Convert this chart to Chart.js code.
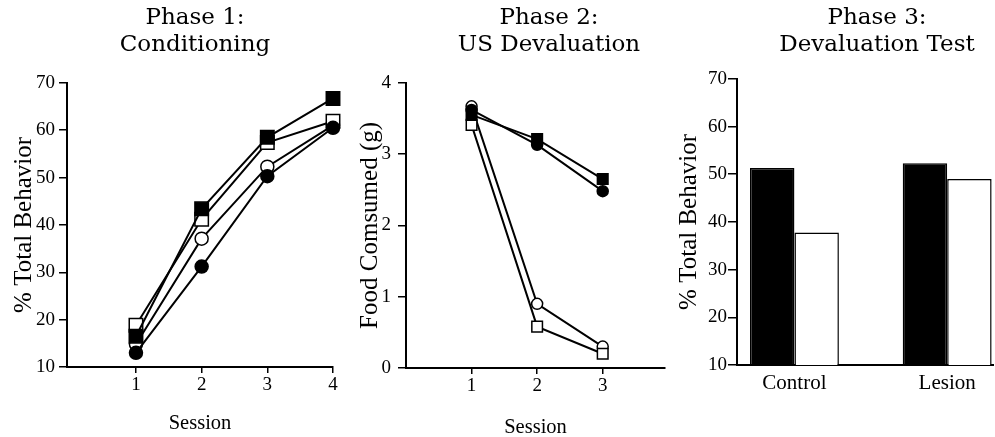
<!DOCTYPE html>
<html>
<head>
<meta charset="utf-8">
<script src="https://cdn.jsdelivr.net/npm/chart.js@4.4.1/dist/chart.umd.min.js"></script>
<style>
  html, body { margin: 0; padding: 0; background: #fff; overflow: hidden; }
  body { width: 995px; height: 437px; position: relative; }
  canvas { position: absolute; top: 0; }
  #phase1 { left: 0; }
  #phase2 { left: 352px; }
  #phase3 { left: 665px; }
</style>
</head>
<body>
<canvas id="phase1" width="390" height="437"></canvas>
<canvas id="phase2" width="394" height="441"></canvas>
<canvas id="phase3" width="424" height="437"></canvas>
<script>
// Phase 1: Conditioning (% total behavior per session)
const sessions1 = [1, 2, 3, 4];
const p1FilledSquare = [16.5, 43.4, 58.5, 66.7];
const p1OpenSquare = [18.8, 41.2, 57.4, 61.9];
const p1OpenCircle = [14.8, 37.1, 52.3, 61.0];
const p1FilledCircle = [13.0, 31.2, 50.3, 60.5];
const p1Ticks = [10, 20, 30, 40, 50, 60, 70];

// Phase 2: US Devaluation (food consumed, g)
const sessions2 = [1, 2, 3];
const p2FilledSquare = [3.55, 3.21, 2.65];
const p2FilledCircle = [3.62, 3.13, 2.48];
const p2OpenCircle = [3.67, 0.90, 0.30];
const p2OpenSquare = [3.41, 0.58, 0.20];
const p2Ticks = [0, 1, 2, 3, 4];

// Phase 3: Devaluation Test
const groups = ['Control', 'Lesion'];
const nonDevalued = [51.3, 52.3];
const devalued = [37.8, 49.0];
const p3Ticks = [10, 20, 30, 40, 50, 60, 70];

Chart.defaults.font.family = '"Liberation Serif", serif';
Chart.defaults.color = '#000';
Chart.defaults.animation = false;

const titleFont = { family: '"DejaVu Serif", serif', size: 23, weight: 'normal', lineHeight: 1.17 };
const tickFont = { size: 19 };

function points(xs, ys) {
  return xs.map((x, i) => ({ x: x, y: ys[i] }));
}

function lineSet(label, xs, ys, style, filled, radius) {
  return {
    label: label,
    data: points(xs, ys),
    borderColor: '#000',
    borderWidth: 2,
    pointStyle: style,
    pointRadius: radius,
    pointBackgroundColor: filled ? '#000' : '#fff',
    pointBorderColor: '#000',
    pointBorderWidth: 1.5,
    tension: 0,
    clip: false
  };
}

function yAxis(min, max, ticks, width, titleText, titlePad, tickPad, tickLen) {
  return {
    type: 'linear',
    position: 'left',
    min: min,
    max: max,
    afterBuildTicks: s => { s.ticks = ticks.map(v => ({ value: v })); },
    afterFit: s => { s.width = width; },
    grid: { display: true, drawOnChartArea: false, drawTicks: true, tickLength: tickLen, color: '#000', lineWidth: 1.5 },
    border: { display: true, color: '#000', width: 2 },
    ticks: { font: tickFont, padding: tickPad, color: '#000' },
    title: {
      display: true,
      text: titleText,
      font: { size: 25 },
      color: '#000',
      padding: { top: titlePad, bottom: 0 }
    }
  };
}

function rightPad(width) {
  return {
    type: 'linear',
    position: 'right',
    display: true,
    grid: { display: false },
    border: { display: false },
    ticks: { display: false },
    afterFit: s => { s.width = width; }
  };
}

function sessionAxis(min, max, ticks, height) {
  return {
    type: 'linear',
    position: 'bottom',
    min: min,
    max: max,
    afterBuildTicks: s => { s.ticks = ticks.map(v => ({ value: v })); },
    afterFit: s => { s.height = height; },
    grid: { display: true, drawOnChartArea: false, drawTicks: true, tickLength: 6, color: '#000', lineWidth: 1.5 },
    border: { display: true, color: '#000', width: 2 },
    ticks: { font: tickFont, padding: 1, color: '#000', maxRotation: 0 },
    title: {
      display: true,
      text: 'Session',
      font: { size: 20.5 },
      color: '#000',
      padding: { top: 0, bottom: 1 }
    }
  };
}

function titlePlugin(lines, bottom) {
  return {
    display: true,
    text: lines,
    font: titleFont,
    color: '#000',
    padding: { top: 5, bottom: bottom }
  };
}

// Phase 1 chart
new Chart(document.getElementById('phase1'), {
  type: 'line',
  data: {
    datasets: [
      lineSet('Filled square', sessions1, p1FilledSquare, 'rect', true, 9.5),
      lineSet('Filled circle', sessions1, p1FilledCircle, 'circle', true, 6.5),
      lineSet('Open square', sessions1, p1OpenSquare, 'rect', false, 9.5),
      lineSet('Open circle', sessions1, p1OpenCircle, 'circle', false, 6.5)
    ]
  },
  options: {
    responsive: false,
    devicePixelRatio: 1,
    layout: { padding: 0 },
    plugins: {
      legend: { display: false },
      tooltip: { enabled: false },
      title: titlePlugin(['Phase 1:', 'Conditioning'], 24)
    },
    scales: {
      x: sessionAxis(-0.05, 4, sessions1, 70),
      y: yAxis(10, 70, p1Ticks, 67, '% Total Behavior', 9, 4, 8),
      pad: rightPad(57)
    }
  }
});

// Phase 2 chart
new Chart(document.getElementById('phase2'), {
  type: 'line',
  data: {
    datasets: [
      lineSet('Filled square', sessions2, p2FilledSquare, 'rect', true, 7.5),
      lineSet('Filled circle', sessions2, p2FilledCircle, 'circle', true, 5.5),
      lineSet('Open square', sessions2, p2OpenSquare, 'rect', false, 7.5),
      lineSet('Open circle', sessions2, p2OpenCircle, 'circle', false, 5.5)
    ]
  },
  options: {
    responsive: false,
    devicePixelRatio: 1,
    layout: { padding: 0 },
    plugins: {
      legend: { display: false },
      tooltip: { enabled: false },
      title: titlePlugin(['Phase 2:', 'US Devaluation'], 24)
    },
    scales: {
      x: sessionAxis(0, 3.95, sessions2, 73),
      y: yAxis(0, 4, p2Ticks, 54, 'Food Comsumed (g)', 3, 7, 8),
      pad: rightPad(81)
    }
  }
});

// Phase 3 chart
new Chart(document.getElementById('phase3'), {
  type: 'bar',
  data: {
    datasets: [
      {
        label: 'Non-devalued',
        data: points(groups.map((g, i) => i + 1), nonDevalued),
        backgroundColor: '#000',
        borderColor: '#000',
        borderWidth: 1.5,
        categoryPercentage: 0.582,
        barPercentage: 1
      },
      {
        label: 'Devalued',
        data: points(groups.map((g, i) => i + 1), devalued),
        backgroundColor: '#fff',
        borderColor: '#000',
        borderWidth: 1.5,
        categoryPercentage: 0.582,
        barPercentage: 1
      }
    ]
  },
  options: {
    responsive: false,
    devicePixelRatio: 1,
    layout: { padding: 0 },
    plugins: {
      legend: { display: false },
      tooltip: { enabled: false },
      title: titlePlugin(['Phase 3:', 'Devaluation Test'], 20)
    },
    scales: {
      x: {
        type: 'linear',
        position: 'bottom',
        offset: false,
        min: 0.624,
        max: 2.3,
        afterBuildTicks: s => { s.ticks = groups.map((g, i) => ({ value: i + 1 })); },
        afterFit: s => { s.height = 72; },
        grid: { display: false, drawTicks: false, offset: false },
        border: { display: true, color: '#000', width: 2 },
        ticks: {
          font: { size: 21 },
          padding: 6,
          color: '#000',
          maxRotation: 0,
          callback: v => groups[Math.round(v) - 1]
        }
      },
      y: yAxis(10, 70, p3Ticks, 72, '% Total Behavior', 9, 1, 9),
      pad: rightPad(96)
    }
  }
});
</script>
</body>
</html>
